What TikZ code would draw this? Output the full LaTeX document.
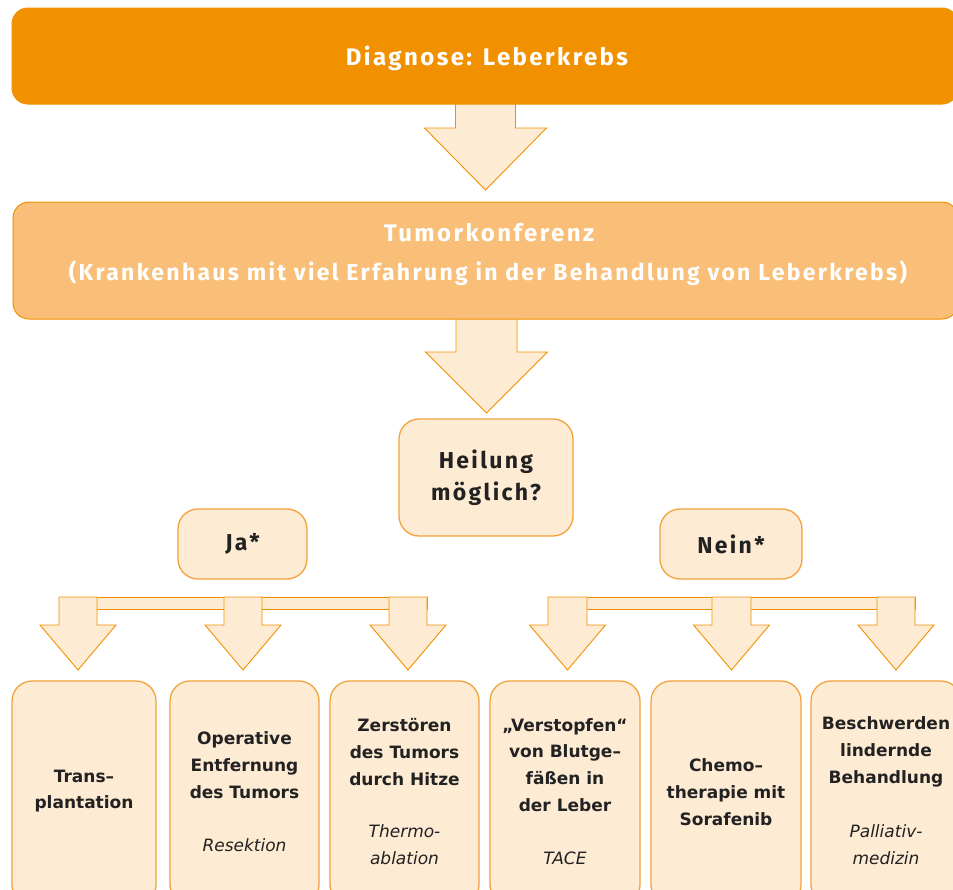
\documentclass[tikz,border=0pt]{standalone}
\usepackage{fontspec}
\setmainfont{DejaVu Sans}
\newfontfamily\hfont{Fira Sans}[LetterSpace=10]
\newfontfamily\mfont{Fira Sans}[LetterSpace=10]
\definecolor{orangeA}{HTML}{F29100}
\definecolor{orangeB}{HTML}{F9BF78}
\definecolor{lightO}{HTML}{FDEBD4}
\definecolor{borderO}{HTML}{F3A23C}
\definecolor{txt}{HTML}{222222}
\tikzset{
  topbox/.style={draw=orangeA, fill=orangeA, rounded corners=16pt, line width=1pt, inner sep=0pt},
  tumbox/.style={draw=orangeA, fill=orangeB, rounded corners=16pt, line width=1pt, inner sep=0pt},
  qbox/.style={draw=borderO, fill=lightO, rounded corners=20pt, line width=1.3pt, inner sep=0pt, text=txt,
     font=\mfont\bfseries\fontsize{23}{32}\selectfont, align=center},
  leafbox/.style={draw=borderO, fill=lightO, rounded corners=20pt, line width=1.3pt, inner sep=0pt},
  leaftxt/.style={text=txt, font=\bfseries\fontsize{17}{26.7}\selectfont, align=center, inner sep=0pt},
  leafit/.style={text=txt, font=\itshape\fontsize{17}{26.7}\selectfont, align=center, inner sep=0pt},
  hdtxt/.style={text=white, font=\hfont\bfseries\fontsize{24}{26}\selectfont, inner sep=0pt},
  hdtxtb/.style={text=white, font=\hfont\bfseries\fontsize{23}{26}\selectfont, inner sep=0pt},
  barrow/.style={draw=orangeA, fill=lightO, line width=0.9pt, line join=miter},
}
\newcommand\blockarrow[6]{%
  \filldraw[barrow] ({#1-#5},#2) -- ({#1-#5},#3) -- ({#1-#6},#3) -- (#1,#4) -- ({#1+#6},#3) -- ({#1+#5},#3) -- ({#1+#5},#2) -- cycle;}
\begin{document}
\begin{tikzpicture}[x=1pt,y=-1pt]
\useasboundingbox (0,0) rectangle (953,889);
\clip (0,0) rectangle (953,889);
\fill[white] (0,0) rectangle (953,889);

% main arrows
\blockarrow{485.5}{100}{128}{190}{30}{61}
\blockarrow{486.5}{315}{352}{413}{30.5}{61}

% boxes
\node[topbox, minimum width=946pt, minimum height=96pt] (diag) at (485,56) {};
\node[hdtxt] (diagt) at (487,58) {Diagnose: Leberkrebs};

\node[tumbox, minimum width=945pt, minimum height=117pt] (tum) at (485.5,260.5) {};
\node[hdtxt] (tumt1) at (489,233) {Tumorkonferenz};
\node[hdtxtb] (tumt2) at (488,273) {(Krankenhaus mit viel Erfahrung in der Behandlung von Leberkrebs)};

\node[qbox, minimum width=174pt, minimum height=117pt] (heil) at (486,477.5) {Heilung\\möglich?};
\node[qbox, minimum width=129pt, minimum height=70pt] (ja) at (242.5,544) {Ja*};
\node[qbox, minimum width=142pt, minimum height=70pt] (nein) at (731,544) {Nein*};

% branch bars
\filldraw[barrow] (59,597) rectangle (427,609);
\filldraw[barrow] (548,597) rectangle (915,609);
\blockarrow{78}{597}{625}{670}{19}{38}
\blockarrow{243}{597}{625}{670}{19}{38}
\blockarrow{408}{597}{625}{670}{19}{38}
\blockarrow{567.5}{597}{625}{670}{19.5}{38}
\blockarrow{731.5}{597}{625}{670}{19.5}{38}
\blockarrow{896}{597}{625}{670}{19}{38}

% leaf boxes
\node[leafbox, minimum width=144pt, minimum height=224pt] (l1) at (84,793) {};
\node[leafbox, minimum width=149pt, minimum height=224pt] (l2) at (244.5,793) {};
\node[leafbox, minimum width=149pt, minimum height=224pt] (l3) at (404.5,793) {};
\node[leafbox, minimum width=150pt, minimum height=224pt] (l4) at (565,793) {};
\node[leafbox, minimum width=150pt, minimum height=224pt] (l5) at (726,793) {};
\node[leafbox, minimum width=150pt, minimum height=224pt] (l6) at (886,793) {};

\node[leaftxt] (t1) at (84,791) {Trans–\\plantation};
\node[leaftxt] (t2) at (244.5,765) {Operative\\Entfernung\\des Tumors};
\node[leafit] (i2) at (244.5,845) {Resektion};
\node[leaftxt] (t3) at (404.5,752) {Zerstören\\des Tumors\\durch Hitze};
\node[leafit] (i3) at (404.5,845) {Thermo-\\ablation};
\node[leaftxt] (t4) at (565,765) {„Verstopfen“\\von Blutge–\\fäßen in\\der Leber};
\node[leafit] (i4) at (565,858) {TACE};
\node[leaftxt] (t5) at (726,792) {Chemo–\\therapie mit\\Sorafenib};
\node[leaftxt] (t6) at (886,752) {Beschwerden\\lindernde\\Behandlung};
\node[leafit] (i6) at (886,845) {Palliativ-\\medizin};
\end{tikzpicture}
\end{document}
